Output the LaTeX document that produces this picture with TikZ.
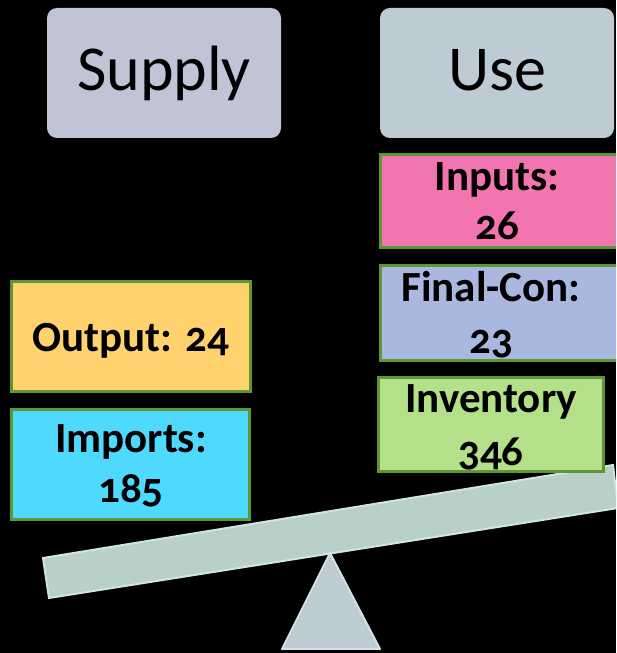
\documentclass[tikz,border=0pt]{standalone}
\usepackage{fontspec}
\setmainfont{Carlito}[Numbers=OldStyle]
\definecolor{boxgreen}{HTML}{5E9632}
\definecolor{supplyc}{HTML}{C0C4D4}
\definecolor{usec}{HTML}{BDCBD4}
\definecolor{inputc}{HTML}{F375AF}
\definecolor{finalc}{HTML}{AAB7DE}
\definecolor{invc}{HTML}{B3E089}
\definecolor{outc}{HTML}{FFD26D}
\definecolor{impc}{HTML}{50D9FF}
\definecolor{beamc}{HTML}{B8D0C8}
\definecolor{beamedge}{HTML}{D0E4E2}
\definecolor{trif}{HTML}{BCCCD2}
\definecolor{triedge}{HTML}{D2E2E6}
\tikzset{
  headbox/.style={rounded corners=10pt, minimum width=234pt, minimum height=130pt, inner sep=0pt},
  valbox/.style={draw=boxgreen, line width=3pt, inner sep=0pt},
  headtxt/.style={anchor=base, inner sep=0pt, font=\fontsize{64}{70}\selectfont},
  valtxt/.style={anchor=base, inner sep=0pt, font=\fontsize{43}{50}\selectfont\bfseries},
}
\begin{document}
\begin{tikzpicture}[x=1pt,y=1pt]
\useasboundingbox (0,0) rectangle (616,653);
\fill[black] (0,0) rectangle (616,653);
\begin{scope}
\clip (0,0) rectangle (616,653);
% seesaw
\draw[fill=beamc, draw=beamedge, line width=2pt] (43,95) -- (49,55) -- (618,145) -- (613,188) -- cycle;
\draw[fill=trif, draw=triedge, line width=2pt, line join=round] (330,100) -- (282,4) -- (380,4) -- cycle;
% headers
\node[headbox, fill=supplyc] (supply) at (164,580) {};
\node[headbox, fill=usec] (use) at (497,580) {};
\node[headtxt] (supplyt) at (164,562) {Supply};
\node[headtxt] (uset) at (497,562) {Use};
% use side boxes (run off the right edge)
\node[valbox, fill=inputc, minimum width=250pt, minimum height=93pt, anchor=west] (inputs) at (378.5,452) {};
\node[valbox, fill=finalc, minimum width=250pt, minimum height=95pt, anchor=west] (final) at (378.5,340) {};
\node[valbox, fill=invc, minimum width=225pt, minimum height=94pt] (inv) at (491,228.5) {};
% supply side boxes
\node[valbox, fill=outc, minimum width=239pt, minimum height=110pt] (output) at (131,316.5) {};
\node[valbox, fill=impc, minimum width=238pt, minimum height=110pt] (imports) at (130.5,188.5) {};
% texts
\node[valtxt] (inputst1) at (497,462) {Inputs:};
\node[valtxt] (inputst2) at (497,413) {26};
\node[valtxt] (finalt1) at (491,351) {Final-Con:};
\node[valtxt] (finalt2) at (491,299) {23};
\node[valtxt] (invt1) at (491,240) {Inventory};
\node[valtxt] (invt2) at (491,187) {346};
\node[valtxt] (outputt) at (131,301) {Output: 24};
\node[valtxt] (importst1) at (131,200) {Imports:};
\node[valtxt] (importst2) at (131,150) {185};
\end{scope}
\end{tikzpicture}
\end{document}
